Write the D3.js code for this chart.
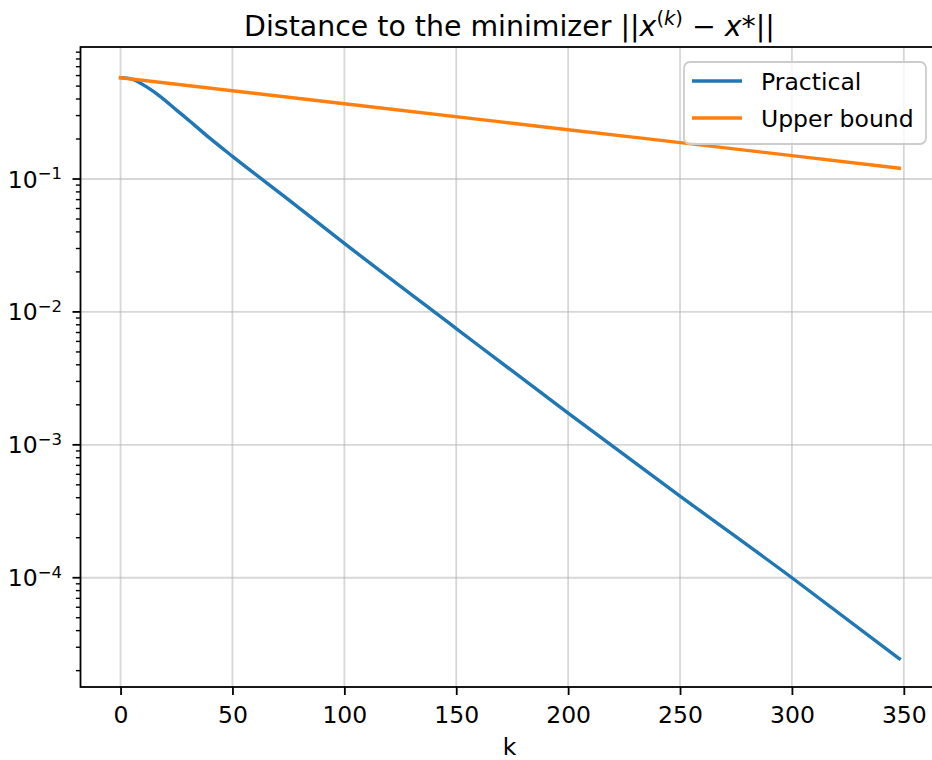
<!DOCTYPE html>
<html>
<head>
<meta charset="utf-8">
<script src="https://cdn.jsdelivr.net/npm/d3@7/dist/d3.min.js"></script>
<style>
  body { margin: 0; background: #fff; }
  svg { display: block; font-family: "DejaVu Sans", sans-serif; }
</style>
</head>
<body>
<div id="chart"></div>
<script>
// Data
const practicalK = [0, 5, 10, 15, 20, 25, 30, 40, 50, 75, 100, 150, 200, 250, 300, 348];
const practicalVal = [0.578, 0.565, 0.513, 0.452, 0.389, 0.330, 0.281, 0.202, 0.148,
                      0.0700, 0.0328, 0.0075, 0.00173, 0.000412, 0.000100, 0.0000246];
const boundK = [0, 100, 200, 300, 348];
const boundVal = [0.578, 0.368, 0.235, 0.150, 0.1205];
const xTicks = [0, 50, 100, 150, 200, 250, 300, 350];
const yTickExp = [-1, -2, -3, -4];
const seriesNames = ["Practical", "Upper bound"];
const seriesColors = ["#1f77b4", "#ff7f0e"];

const W = 932, H = 760;
const plot = {left: 80.5, right: 938.5, top: 47, bottom: 687};
const fs = 23.5;

const svg = d3.select("#chart").append("svg")
    .attr("width", W)
    .attr("height", H);

const x = d3.scaleLinear()
    .domain([-17.9, 365.5])
    .range([plot.left, plot.right]);

const y = d3.scaleLog()
    .domain([Math.pow(10, -4.822), Math.pow(10, -0.0068)])
    .range([plot.bottom, plot.top]);

// Grid
const grid = svg.append("g");
grid.selectAll(".gx").data(xTicks).enter().append("line")
    .attr("x1", d => x(d)).attr("x2", d => x(d))
    .attr("y1", plot.top).attr("y2", plot.bottom)
    .attr("stroke", "#b0b0b0").attr("stroke-opacity", 0.5).attr("stroke-width", 1.8);
grid.selectAll(".gy").data(yTickExp).enter().append("line")
    .attr("x1", plot.left).attr("x2", plot.right)
    .attr("y1", d => y(Math.pow(10, d))).attr("y2", d => y(Math.pow(10, d)))
    .attr("stroke", "#b0b0b0").attr("stroke-opacity", 0.5).attr("stroke-width", 1.8);

// Lines
const line = d3.line()
    .x(d => x(d[0]))
    .y(d => y(d[1]))
    .curve(d3.curveMonotoneX);

const series = [
  d3.zip(practicalK, practicalVal),
  d3.zip(boundK, boundVal)
];

svg.append("g").selectAll("path").data(series).enter().append("path")
    .attr("d", line)
    .attr("fill", "none")
    .attr("stroke", (d, i) => seriesColors[i])
    .attr("stroke-width", 3.4)
    .attr("stroke-linecap", "square");

// Axes
const xAxis = svg.append("g")
    .attr("transform", `translate(0, ${plot.bottom})`)
    .call(d3.axisBottom(x).tickValues(xTicks).tickSize(8).tickPadding(11));
xAxis.select(".domain").remove();
xAxis.selectAll(".tick line").attr("stroke-width", 1.8);
xAxis.selectAll(".tick text")
    .attr("font-size", fs).attr("fill", "#000")
    .attr("font-family", "DejaVu Sans");

const minor = [];
for (let e = -5; e <= 0; e++) {
  for (let m = 2; m <= 9; m++) {
    const v = m * Math.pow(10, e);
    if (v >= y.domain()[0] && v <= y.domain()[1]) minor.push(v);
  }
}
const yAxis = svg.append("g");
yAxis.selectAll(".minor").data(minor).enter().append("line")
    .attr("x1", plot.left - 4.6).attr("x2", plot.left)
    .attr("y1", d => y(d)).attr("y2", d => y(d))
    .attr("stroke", "#000").attr("stroke-width", 1.4);
yAxis.selectAll(".major").data(yTickExp).enter().append("line")
    .attr("x1", plot.left - 8).attr("x2", plot.left)
    .attr("y1", d => y(Math.pow(10, d))).attr("y2", d => y(Math.pow(10, d)))
    .attr("stroke", "#000").attr("stroke-width", 1.8);
const yLab = yAxis.selectAll(".lab").data(yTickExp).enter().append("text")
    .attr("x", 62)
    .attr("y", d => y(Math.pow(10, d)) + 8.5)
    .attr("text-anchor", "end")
    .attr("font-size", fs);
yLab.append("tspan").text("10");
yLab.append("tspan").attr("dy", -8.5).attr("font-size", 16.5).text(d => "\u2212" + Math.abs(d));

// Spines
svg.append("rect")
    .attr("x", plot.left).attr("y", plot.top)
    .attr("width", plot.right - plot.left).attr("height", plot.bottom - plot.top)
    .attr("fill", "none").attr("stroke", "#000").attr("stroke-width", 1.8);

// Title
const title = svg.append("text")
    .attr("x", (plot.left + plot.right) / 2)
    .attr("y", 36)
    .attr("text-anchor", "middle")
    .attr("font-size", 28.4);
title.append("tspan").text("Distance to the minimizer ||");
title.append("tspan").attr("font-style", "italic").text("x");
title.append("tspan").attr("dy", -11).attr("font-size", 19.5).text("(");
title.append("tspan").attr("font-size", 19.5).attr("font-style", "italic").text("k");
title.append("tspan").attr("font-size", 19.5).text(")");
title.append("tspan").attr("dy", 11).text(" \u2212 ");
title.append("tspan").attr("font-style", "italic").text("x");
title.append("tspan").text("*||");

// X label
svg.append("text")
    .attr("x", (plot.left + plot.right) / 2)
    .attr("y", 755)
    .attr("text-anchor", "middle")
    .attr("font-size", fs)
    .text("k");

// Legend
const leg = svg.append("g").attr("transform", "translate(684, 62)");
leg.append("rect")
    .attr("width", 242).attr("height", 82).attr("rx", 6)
    .attr("fill", "#fff").attr("fill-opacity", 0.8)
    .attr("stroke", "#ccc").attr("stroke-width", 1.8);
const items = leg.selectAll(".item").data(seriesNames).enter().append("g")
    .attr("transform", (d, i) => `translate(0, ${19 + i * 37})`);
items.append("line")
    .attr("x1", 8).attr("x2", 58)
    .attr("stroke", (d, i) => seriesColors[i])
    .attr("stroke-width", 3.4);
items.append("text")
    .attr("x", 77).attr("y", 8.5)
    .attr("font-size", fs)
    .text(d => d);
</script>
</body>
</html>
